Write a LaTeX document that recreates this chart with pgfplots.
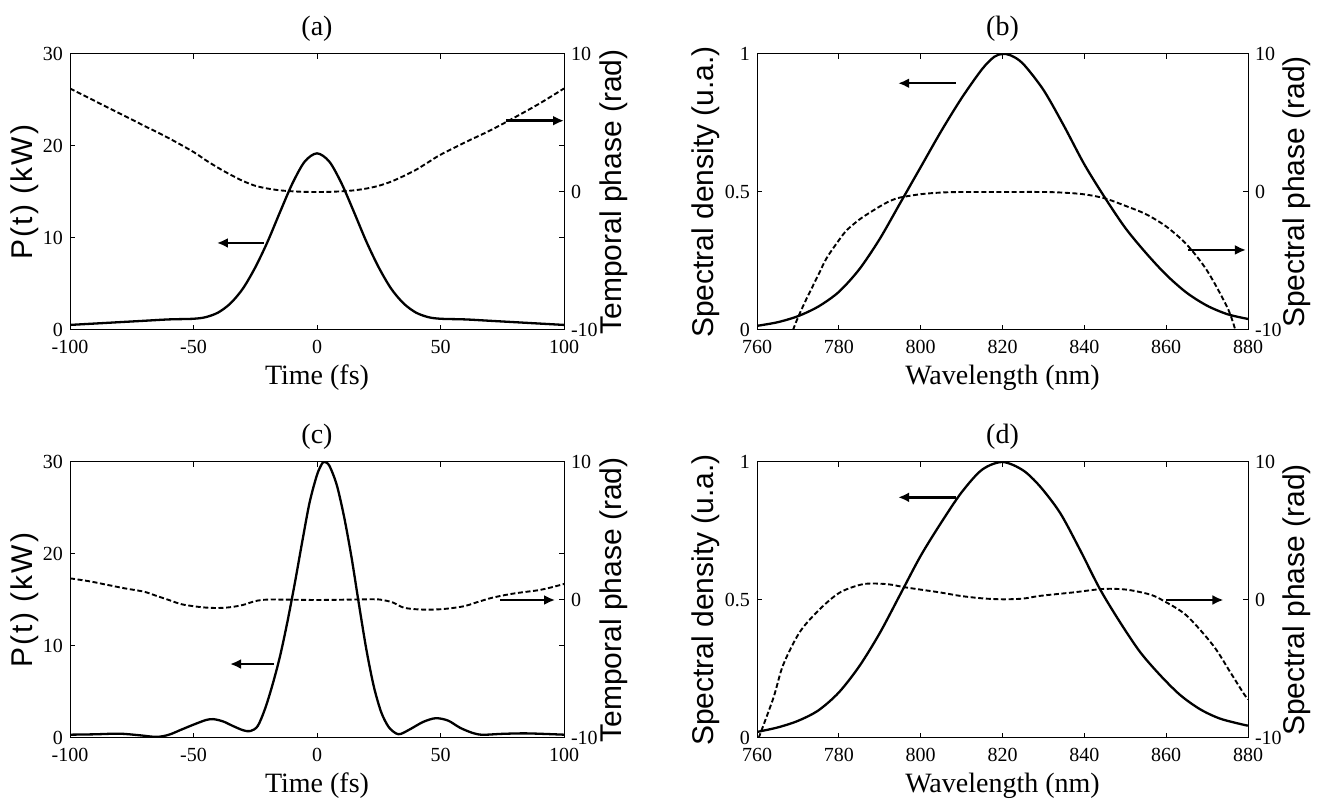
\documentclass[border=0pt]{standalone}
\usepackage{pgfplots}
\pgfplotsset{compat=1.18}
\usepackage{fontspec}
\setmainfont{Liberation Serif}
\newfontfamily\arial{Liberation Sans}
\newfontfamily\arialls[LetterSpace=7]{Liberation Sans}
\usetikzlibrary{arrows.meta}
\tikzset{arr/.style={black, line width=1.2pt, -{Latex[length=5.5pt,width=5pt]}}}
\pgfplotsset{
  base/.style={scale only axis, width=247pt, height=138pt, anchor=south west,
    tick align=inside, major tick length=2.5pt,
    axis line style={line width=0.5pt},
    every tick/.style={black, line width=0.5pt},
    ticklabel style={font=\fontsize{10}{12}\selectfont},
    /pgf/number format/assume math mode=true},
  leftax/.style={base, xtick pos=both, ytick pos=both,
    xticklabel style={anchor=base, yshift=-12pt},
    xlabel style={font=\fontsize{14}{16}\selectfont, at={(axis description cs:0.5,0)}, anchor=center, yshift=-24pt},
    title style={font=\fontsize{14}{16}\selectfont, at={(axis description cs:0.5,1)}, anchor=center, yshift=6.5pt},
    ylabel style={font=\arial\fontsize{15}{17}\selectfont, anchor=center}},
  rightax/.style={base, axis x line=none, axis y line*=right, ytick pos=right,
    ymin=-10, ymax=10, ytick={-10,0,10},
    ylabel style={font=\arial\fontsize{15}{17}\selectfont, anchor=center}},
  sol/.style={black, line width=1.15pt, smooth},
  das/.style={black, line width=0.95pt, dash pattern=on 2.5pt off 1.3pt, smooth}
}
\begin{document}
\begin{tikzpicture}
% ---------------- (a)
\begin{axis}[leftax, at={(35pt,238.5pt)}, xmin=-100, xmax=100, ymin=0, ymax=30,
  xtick={-100,-50,0,50,100}, ytick={0,10,20,30},
  title={(a)}, xlabel={Time (fs)}, ylabel={P(t) (kW)},
  ylabel style={font=\arialls\fontsize{15}{17}\selectfont, at={([xshift=-22.5pt]axis description cs:0,0.5)}}]
\addplot[sol] coordinates {(-100,0.55)(-90,0.7)(-80,0.85)(-70,1.0)(-60,1.15)(-50,1.22)(-45,1.4)(-40,1.9)(-35,2.9)(-30,4.5)(-25,6.8)(-20,9.6)(-15,12.8)(-10,15.9)(-5,18.3)(0,19.2)(5,18.3)(10,15.9)(15,12.8)(20,9.6)(25,6.8)(30,4.5)(35,2.9)(40,1.9)(45,1.4)(50,1.22)(60,1.15)(70,1.0)(80,0.85)(90,0.7)(100,0.55)};
\draw[arr] (axis cs:-21.5,9.46) -- (axis cs:-40.5,9.46);
\draw[arr] (axis cs:76.5,22.75) -- (axis cs:100,22.75);
\end{axis}
\begin{axis}[rightax, at={(35pt,238.5pt)}, xmin=-100, xmax=100, ylabel={Temporal phase (rad)},
  ylabel style={at={([xshift=25pt]axis description cs:1,0.5)}}]
\addplot[das] coordinates {(-100,7.5)(-90,6.6)(-80,5.7)(-70,4.8)(-60,3.9)(-50,2.9)(-45,2.3)(-40,1.75)(-35,1.25)(-30,0.8)(-25,0.45)(-20,0.25)(-15,0.12)(-10,0.05)(-5,0.01)(0,0)(5,0.01)(10,0.05)(15,0.12)(20,0.25)(25,0.45)(30,0.75)(35,1.15)(40,1.6)(45,2.15)(50,2.7)(60,3.6)(70,4.45)(80,5.4)(90,6.4)(100,7.5)};
\end{axis}
% ---------------- (b)
\begin{axis}[leftax, at={(378.5pt,238.5pt)}, width=245.5pt, xmin=760, xmax=880, ymin=0, ymax=1,
  xtick={760,780,...,880}, ytick={0,0.5,1},
  title={(b)}, xlabel={Wavelength (nm)}, ylabel={Spectral density (u.a.)},
  ylabel style={at={([xshift=-25.5pt]axis description cs:0,0.5)}}]
\addplot[sol] coordinates {(760,0.015)(765,0.028)(770,0.05)(775,0.085)(780,0.138)(785,0.22)(790,0.33)(795,0.46)(800,0.59)(805,0.72)(810,0.84)(815,0.945)(818,0.99)(820,1.0)(822,0.995)(825,0.965)(830,0.87)(835,0.74)(840,0.6)(845,0.48)(850,0.37)(855,0.28)(860,0.2)(865,0.135)(870,0.088)(875,0.057)(880,0.04)};
\draw[arr] (axis cs:808.6,0.894) -- (axis cs:794.5,0.894);
\draw[arr] (axis cs:865.3,0.29) -- (axis cs:879.5,0.29);
\end{axis}
\begin{axis}[rightax, at={(378.5pt,238.5pt)}, width=245.5pt, xmin=760, xmax=880, ylabel={Spectral phase (rad)},
  ylabel style={at={([xshift=24.5pt]axis description cs:1,0.5)}}]
\addplot[das] coordinates {(768.8,-10)(770,-9.1)(772,-7.8)(775,-6.0)(777,-4.8)(780,-3.5)(782,-2.75)(785,-2.0)(787,-1.6)(790,-1.05)(792.5,-0.65)(795,-0.4)(800,-0.16)(805,-0.04)(810,0)(820,0)(830,0)(835,-0.05)(840,-0.17)(845,-0.46)(850,-1.0)(855,-1.6)(860,-2.5)(865,-3.8)(870,-5.7)(875,-8.4)(876.9,-10)};
\end{axis}
% ---------------- (c)
\begin{axis}[leftax, at={(35pt,34.5pt)}, xmin=-100, xmax=100, ymin=0, ymax=30,
  xtick={-100,-50,0,50,100}, ytick={0,10,20,30},
  title={(c)}, xlabel={Time (fs)}, ylabel={P(t) (kW)},
  ylabel style={font=\arialls\fontsize{15}{17}\selectfont, at={([xshift=-22.5pt]axis description cs:0,0.5)}}]
\addplot[sol] coordinates {(-100,0.36)(-90,0.4)(-80,0.47)(-72,0.3)(-65,0.12)(-60,0.35)(-55,0.9)(-50,1.45)(-45,1.95)(-42,2.05)(-38,1.8)(-34,1.3)(-30,0.85)(-27,0.75)(-24,1.3)(-21,3.2)(-18,5.8)(-15,8.85)(-12,12.6)(-9,16.8)(-6,21.3)(-3,25.6)(0,28.6)(2,29.8)(3,30)(5,29.6)(8,27.5)(11,24)(14,19.6)(17,14.5)(20,9.6)(23,5.6)(26,2.8)(29,1.2)(32,0.5)(34,0.45)(38,1.0)(43,1.75)(48,2.15)(53,1.9)(58,1.1)(63,0.55)(67,0.35)(75,0.45)(85,0.5)(100,0.36)};
\draw[arr] (axis cs:-17.4,8.04) -- (axis cs:-35.2,8.04);
\draw[arr] (axis cs:74.1,15) -- (axis cs:96.4,15);
\end{axis}
\begin{axis}[rightax, at={(35pt,34.5pt)}, xmin=-100, xmax=100, ylabel={Temporal phase (rad)},
  ylabel style={at={([xshift=25pt]axis description cs:1,0.5)}}]
\addplot[das] coordinates {(-100,1.57)(-92,1.35)(-85,1.1)(-78,0.85)(-70,0.6)(-65,0.3)(-60,0.0)(-55,-0.3)(-50,-0.45)(-45,-0.55)(-40,-0.58)(-35,-0.52)(-30,-0.36)(-25,-0.08)(-20,0.03)(-10,0.02)(0,0)(10,0.02)(20,0.05)(25,0.04)(28,-0.05)(31,-0.2)(35,-0.55)(40,-0.67)(45,-0.7)(50,-0.67)(55,-0.58)(60,-0.43)(65,-0.15)(70,0.12)(75,0.32)(80,0.48)(85,0.6)(90,0.72)(95,0.92)(100,1.16)};
\end{axis}
% ---------------- (d)
\begin{axis}[leftax, at={(378.5pt,34.5pt)}, width=245.5pt, xmin=760, xmax=880, ymin=0, ymax=1,
  xtick={760,780,...,880}, ytick={0,0.5,1},
  title={(d)}, xlabel={Wavelength (nm)}, ylabel={Spectral density (u.a.)},
  ylabel style={at={([xshift=-25.5pt]axis description cs:0,0.5)}}]
\addplot[sol] coordinates {(760,0.022)(765,0.038)(770,0.062)(775,0.1)(780,0.165)(785,0.26)(790,0.38)(795,0.52)(800,0.66)(805,0.78)(810,0.89)(815,0.972)(820,1.0)(825,0.97)(829.2,0.911)(834.1,0.815)(838.9,0.683)(843.8,0.54)(848.7,0.42)(853.6,0.312)(858.5,0.228)(863.4,0.156)(868.3,0.104)(873.2,0.07)(878.9,0.048)(880,0.045)};
\draw[arr] (axis cs:808.6,0.872) -- (axis cs:794.5,0.872);
\draw[arr] (axis cs:860,0.5) -- (axis cs:874,0.5);
\end{axis}
\begin{axis}[rightax, at={(378.5pt,34.5pt)}, width=245.5pt, xmin=760, xmax=880, ylabel={Spectral phase (rad)},
  ylabel style={at={([xshift=24.5pt]axis description cs:1,0.5)}}]
\addplot[das] coordinates {(760.4,-10)(764,-7.1)(766.4,-4.7)(770.5,-2.3)(775.4,-0.65)(780.3,0.55)(786,1.15)(791.7,1.15)(796.6,0.9)(804.7,0.55)(809.6,0.3)(815,0.12)(820,0.05)(825,0.1)(829.2,0.3)(837.3,0.55)(844.6,0.8)(850.3,0.75)(856,0.4)(859.3,-0.05)(865,-1.13)(871.5,-3.3)(875.6,-5.2)(878.9,-6.76)(880,-7.2)};
\end{axis}
\pgfresetboundingbox
\path[use as bounding box] (0,0) rectangle (661pt,403.5pt);
\end{tikzpicture}
\end{document}
